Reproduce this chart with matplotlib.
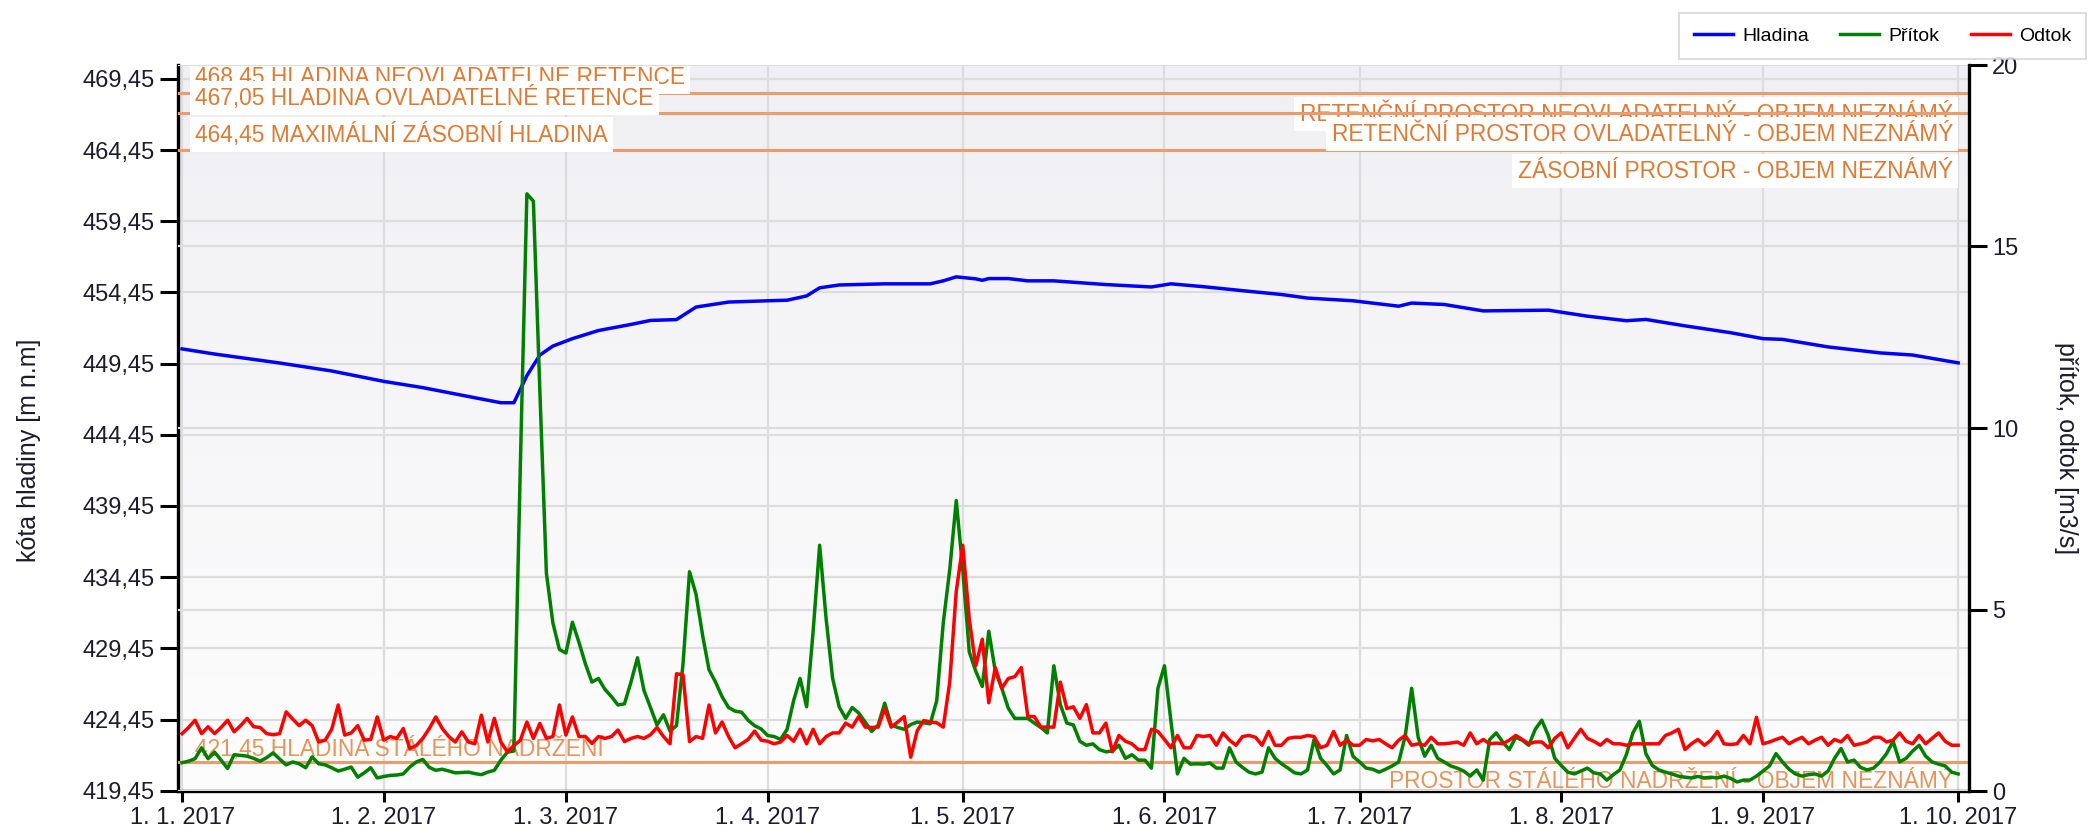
import numpy as np
import matplotlib
matplotlib.use("Agg")
import matplotlib.pyplot as plt
import matplotlib.dates as mdates
from matplotlib.lines import Line2D
from matplotlib.ticker import FuncFormatter

plt.rcParams['font.family'] = ['Liberation Sans', 'DejaVu Sans']

start = np.datetime64('2017-01-01')

# hladina - body (den od 1.1., kota)
hladina_dny = [0, 5, 15, 23, 31, 37, 45, 49, 51, 53, 55, 57, 60, 64, 69, 72, 76, 79, 84, 90,
               93, 96, 98, 101, 108, 115, 117, 119, 122, 123, 124, 127, 130, 134, 142, 149,
               152, 157, 163, 169, 173, 180, 187, 189, 194, 200, 210, 216, 222, 225, 231,
               238, 243, 246, 253, 261, 266, 273]
hladina = [450.48, 450.12, 449.49, 448.93, 448.2, 447.76, 447.05, 446.7, 446.7, 448.6,
           450.05, 450.68, 451.2, 451.77, 452.2, 452.48, 452.54, 453.42, 453.77, 453.86,
           453.9, 454.2, 454.77, 454.97, 455.05, 455.05, 455.26, 455.54, 455.4, 455.3,
           455.42, 455.42, 455.26, 455.26, 455.0, 454.83, 455.05, 454.85, 454.57, 454.3,
           454.05, 453.86, 453.48, 453.7, 453.6, 453.15, 453.2, 452.78, 452.46, 452.55,
           452.1, 451.62, 451.2, 451.15, 450.62, 450.2, 450.05, 449.5]

# pritok - denni hodnoty 1.1. - 1.10.
pritok = [0.78, 0.82, 0.89, 1.19, 0.89, 1.07, 0.85, 0.62, 1.0, 0.98, 0.96, 0.9, 0.82, 0.92, 1.05,
          0.88, 0.72, 0.8, 0.75, 0.64, 0.94, 0.75, 0.72, 0.64, 0.55, 0.6, 0.66, 0.38, 0.5, 0.64,
          0.36, 0.4, 0.43, 0.44, 0.47, 0.66, 0.8, 0.87, 0.65, 0.57, 0.6, 0.55, 0.5, 0.51, 0.52,
          0.48, 0.45, 0.52, 0.57, 0.85, 1.07, 1.1, 9.0, 16.45, 16.25, 11.0, 6.0, 4.63, 3.9, 3.8,
          4.65, 4.1, 3.5, 3.0, 3.1, 2.8, 2.6, 2.37, 2.4, 3.0, 3.67, 2.77, 2.3, 1.82, 2.1,
          1.65, 1.8, 3.5, 6.04, 5.42, 4.3, 3.34, 3.0, 2.6, 2.3, 2.2, 2.17, 1.95, 1.8, 1.71,
          1.53, 1.5, 1.42, 1.7, 2.49, 3.1, 2.32, 4.4, 6.77, 4.74, 3.1, 2.32, 2.0, 2.3, 2.15,
          1.9, 1.64, 1.82, 2.42, 1.82, 1.75, 1.7, 1.83, 1.9, 1.88, 1.85, 2.49, 4.63, 6.1, 8.0,
          6.1, 3.83, 3.3, 2.88, 4.4, 3.3, 2.83, 2.28, 2.0, 2.0, 2.0, 1.87, 1.75, 1.6, 3.45,
          2.38, 1.87, 1.82, 1.37, 1.26, 1.3, 1.14, 1.08, 1.1, 1.26, 0.9, 1.0, 0.85, 0.85, 0.63,
          2.83, 3.45, 1.92, 0.47, 0.9, 0.74, 0.75, 0.74, 0.77, 0.63, 0.63, 1.19, 0.8, 0.65, 0.52,
          0.47, 0.52, 1.19, 0.9, 0.75, 0.63, 0.5, 0.47, 0.58, 1.42, 0.9, 0.7, 0.47, 0.58, 1.53,
          0.95, 0.8, 0.63, 0.6, 0.52, 0.6, 0.69, 0.8, 1.5, 2.83, 1.48, 0.96, 1.26, 0.9, 0.8,
          0.69, 0.63, 0.55, 0.41, 0.58, 0.3, 1.42, 1.6, 1.35, 1.14, 1.48, 1.4, 1.26, 1.7, 1.95,
          1.53, 0.9, 0.7, 0.52, 0.47, 0.55, 0.63, 0.5, 0.47, 0.3, 0.45, 0.58, 1.0, 1.6, 1.92,
          1.03, 0.7, 0.58, 0.52, 0.47, 0.41, 0.38, 0.36, 0.4, 0.36, 0.38, 0.36, 0.41, 0.35, 0.25,
          0.3, 0.3, 0.41, 0.55, 0.69, 1.03, 0.8, 0.6, 0.47, 0.41, 0.45, 0.47, 0.41, 0.55, 0.9,
          1.17, 0.8, 0.85, 0.65, 0.58, 0.63, 0.8, 1.03, 1.37, 0.8, 0.9, 1.1, 1.26, 0.96, 0.8,
          0.74, 0.69, 0.52, 0.47]

# odtok - denni hodnoty 1.1. - 1.10.
odtok = [1.58, 1.75, 1.95, 1.58, 1.77, 1.58, 1.75, 1.95, 1.63, 1.8, 2.0, 1.77, 1.75, 1.58, 1.55,
         1.58, 2.18, 1.98, 1.8, 1.95, 1.8, 1.35, 1.4, 1.7, 2.37, 1.54, 1.6, 1.8, 1.4, 1.42,
         2.04, 1.4, 1.5, 1.45, 1.72, 1.17, 1.25, 1.45, 1.72, 2.04, 1.72, 1.5, 1.35, 1.63, 1.35,
         1.3, 2.09, 1.35, 2.0, 1.35, 1.08, 1.25, 1.4, 1.9, 1.45, 1.86, 1.45, 1.5, 2.37, 1.54,
         2.04, 1.5, 1.5, 1.31, 1.5, 1.45, 1.5, 1.68, 1.36, 1.45, 1.5, 1.45, 1.55, 1.75, 1.5,
         1.3, 3.23, 3.2, 1.36, 1.5, 1.45, 2.37, 1.6, 1.9, 1.5, 1.19, 1.3, 1.42, 1.65, 1.4,
         1.37, 1.3, 1.35, 1.53, 1.37, 1.7, 1.3, 1.7, 1.3, 1.5, 1.6, 1.6, 1.87, 1.76, 2.05,
         1.76, 1.75, 1.76, 2.27, 1.76, 1.9, 2.05, 0.93, 1.66, 1.94, 1.9, 1.88, 1.76, 3.0, 5.5,
         6.77, 4.74, 3.45, 4.18, 2.43, 3.4, 2.83, 3.1, 3.15, 3.4, 2.05, 2.05, 1.76, 1.76, 1.76,
         3.0, 2.27, 2.32, 2.0, 2.38, 1.6, 1.6, 1.87, 1.08, 1.53, 1.37, 1.3, 1.14, 1.14, 1.7,
         1.64, 1.42, 1.19, 1.53, 1.19, 1.19, 1.53, 1.5, 1.53, 1.26, 1.6, 1.4, 1.26, 1.5, 1.53,
         1.48, 1.26, 1.64, 1.26, 1.26, 1.45, 1.48, 1.48, 1.53, 1.5, 1.19, 1.26, 1.64, 1.26, 1.4,
         1.26, 1.26, 1.42, 1.38, 1.42, 1.3, 1.19, 1.4, 1.53, 1.26, 1.3, 1.26, 1.48, 1.3, 1.3,
         1.32, 1.35, 1.26, 1.6, 1.3, 1.42, 1.3, 1.32, 1.3, 1.4, 1.53, 1.42, 1.3, 1.35, 1.35,
         1.19, 1.45, 1.6, 1.19, 1.45, 1.7, 1.45, 1.37, 1.26, 1.42, 1.3, 1.3, 1.26, 1.3, 1.3,
         1.3, 1.3, 1.3, 1.53, 1.6, 1.7, 1.14, 1.3, 1.42, 1.26, 1.4, 1.64, 1.3, 1.28, 1.3,
         1.53, 1.3, 2.03, 1.3, 1.35, 1.42, 1.48, 1.3, 1.4, 1.48, 1.3, 1.4, 1.48, 1.26, 1.42,
         1.35, 1.53, 1.26, 1.3, 1.35, 1.48, 1.48, 1.35, 1.4, 1.6, 1.37, 1.3, 1.53, 1.3, 1.45,
         1.6, 1.37, 1.26, 1.26]

# hladiny a prostory nadrze
kota_hodnoty = [468.45, 467.05, 464.45, 421.45]
kota_popisky = ['468,45 HLADINA NEOVLADATELNÉ RETENCE', '467,05 HLADINA OVLADATELNÉ RETENCE',
                '464,45 MAXIMÁLNÍ ZÁSOBNÍ HLADINA', '421,45 HLADINA STÁLÉHO NADRŽENÍ']
prostor_popisky = ['RETENČNÍ PROSTOR NEOVLADATELNÝ - OBJEM NEZNÁMÝ',
                   'RETENČNÍ PROSTOR OVLADATELNÝ - OBJEM NEZNÁMÝ',
                   'ZÁSOBNÍ PROSTOR - OBJEM NEZNÁMÝ',
                   'PROSTOR STÁLÉHO NADRŽENÍ - OBJEM NEZNÁMÝ']

dny = start + np.arange(len(pritok))
hl_dny = start + np.array(hladina_dny)

oranz_car = '#EB9B6C'
oranz_txt = '#E07A33'
txt_col = '#1c1c2c'

fig = plt.figure(figsize=(20.97, 8.30), dpi=100)
ax = fig.add_axes([178/2097, 1 - 791/830, 1791/2097, 726/830])
ax2 = ax.twinx()

# pozadi s jemnym prechodem
grad = np.linspace(0, 1, 256).reshape(-1, 1)
ax.imshow(grad, cmap=matplotlib.colors.LinearSegmentedColormap.from_list('bg', ['#f0f0f4', '#fdfdfd']),
          extent=[0, 1, 0, 1], transform=ax.transAxes, aspect='auto', zorder=0)

ax.plot(hl_dny, hladina, color='#0000ff', lw=2.5, zorder=4, solid_joinstyle='round')
for k in kota_hodnoty:
    ax.axhline(k, color=oranz_car, lw=2.2, zorder=3)

ax2.plot(dny, pritok, color='#008000', lw=2.5, zorder=4)
ax2.plot(dny, odtok, color='#ff0000', lw=2.5, zorder=5)

ax.set_xlim(start - np.timedelta64(15, 'h'), start + np.timedelta64(274 * 24 + 16, 'h'))
ax.set_ylim(419.43, 470.42)
ax2.set_ylim(0, 20)

# popisky hladin vlevo
tr = ax.get_yaxis_transform()
box = dict(facecolor='white', edgecolor='none', pad=4)
lev_y = [469.6, 468.1, 465.53]
lev_z = [5, 6, 6]
for y, t, z in zip(lev_y, kota_popisky[:3], lev_z):
    ax.text(0.0095, y, t, transform=tr, ha='left', va='center', fontsize=16.4,
            color=oranz_txt, bbox=box, zorder=z, clip_on=True)
ax.text(0.0095, 422.4, kota_popisky[3], transform=tr, ha='left', va='center', fontsize=16.4,
        color=oranz_txt, alpha=0.8, zorder=2)

# popisky prostoru vpravo
ax.text(0.991, 466.95, prostor_popisky[0], transform=tr, ha='right', va='center', fontsize=16.4,
        color=oranz_txt, bbox=box, zorder=2.5)
ax.text(0.991, 465.55, prostor_popisky[1], transform=tr, ha='right', va='center', fontsize=16.4,
        color=oranz_txt, bbox=box, zorder=6)
ax.text(0.991, 462.95, prostor_popisky[2], transform=tr, ha='right', va='center', fontsize=16.4,
        color=oranz_txt, bbox=box, zorder=6)
ax.text(0.991, 420.1, prostor_popisky[3], transform=tr, ha='right', va='center', fontsize=16.4,
        color=oranz_txt, alpha=0.8, zorder=2)

# osy a mrizka
ax.set_yticks(np.arange(419.45, 470, 5))
ax.yaxis.set_major_formatter(FuncFormatter(lambda v, p: f'{v:.2f}'.replace('.', ',')))
ax2.set_yticks([0, 5, 10, 15, 20])
ax.xaxis.set_major_locator(mdates.MonthLocator())
ax.xaxis.set_major_formatter(FuncFormatter(
    lambda v, p: '{0.day}. {0.month}. {0.year}'.format(mdates.num2date(v))))

ax.set_axisbelow(True)
ax.grid(True, color='#dddddd', lw=1.6)
ax2.grid(True, axis='y', color='#dddddd', lw=1.6)
ax2.set_axisbelow(True)

for a in (ax, ax2):
    a.tick_params(axis='both', direction='out', length=13, width=2.2, labelsize=17,
                  colors='black', labelcolor=txt_col)
ax.tick_params(axis='x', length=8)
ax.spines['top'].set_visible(False)
ax.spines['right'].set_visible(False)
ax.spines['left'].set_linewidth(2.4)
ax.spines['bottom'].set_linewidth(2.4)
ax2.spines['top'].set_visible(False)
ax2.spines['left'].set_visible(False)
ax2.spines['bottom'].set_visible(False)
ax2.spines['right'].set_linewidth(2.4)

fig.text(29/2097, 0.458, 'kóta hladiny [m n.m]', rotation=90, ha='center', va='center',
         fontsize=18, color=txt_col)
fig.text(2066/2097, 0.46, 'přítok, odtok [m3/s]', rotation=270, ha='center', va='center',
         fontsize=18, color=txt_col)

handles = [Line2D([], [], color='#0000ff', lw=2.5), Line2D([], [], color='#008000', lw=2.5),
           Line2D([], [], color='#ff0000', lw=2.5)]
leg = fig.legend(handles, ['Hladina', 'Přítok', 'Odtok'], loc='upper right',
                 bbox_to_anchor=(2096/2097, 1 - 3/830), ncol=3, fontsize=14, frameon=True,
                 fancybox=False, edgecolor='#cccccc', handlelength=2.0, handletextpad=0.5,
                 columnspacing=1.6, borderpad=0.75)
leg.get_frame().set_linewidth(1.2)

fig.savefig('out.png', dpi=100)
